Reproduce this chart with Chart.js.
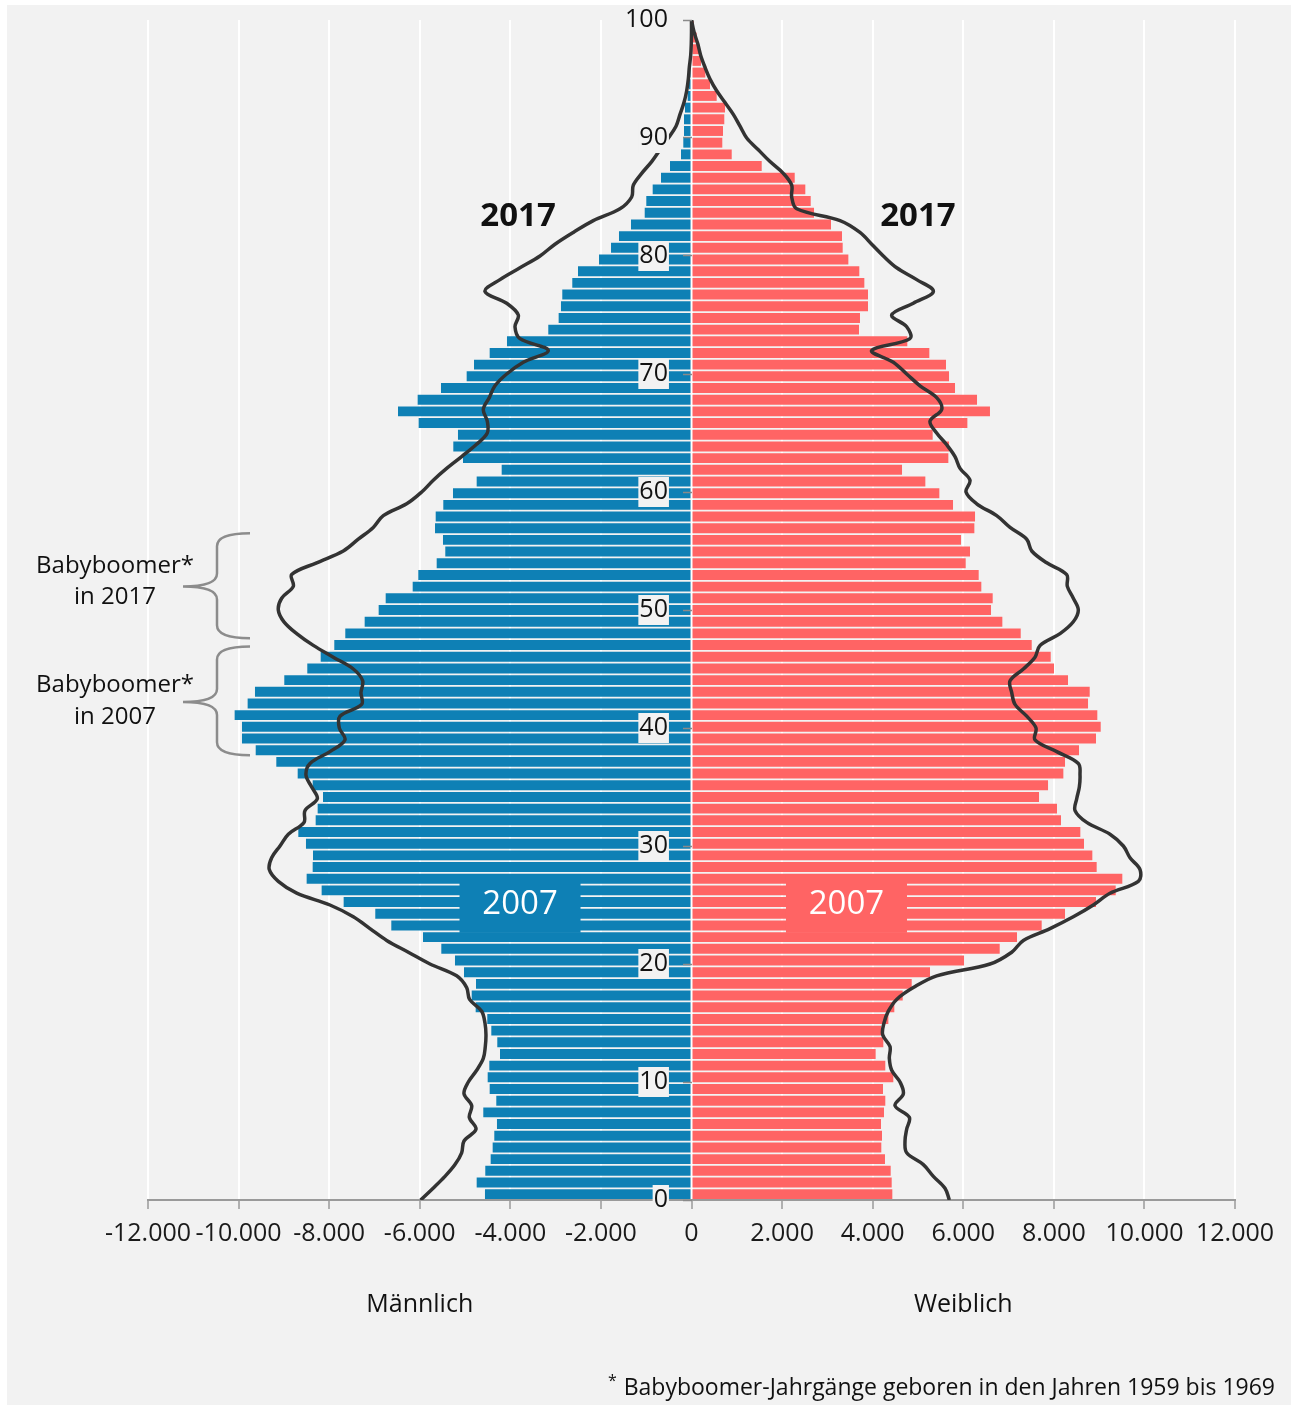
<!DOCTYPE html>
<html lang="de">
<head>
<meta charset="utf-8">
<title>Bevölkerungspyramide 2007 / 2017</title>
<script src="https://cdn.jsdelivr.net/npm/chart.js@4.4.1/dist/chart.umd.min.js"></script>
<style>
  html, body { margin: 0; padding: 0; background: #fff; }
  canvas { display: block; }
</style>
</head>
<body>
<canvas id="pyramide" width="1293" height="1407"></canvas>
<script>
// Altersjahre 0 bis 100
const alter = [
  0, 1, 2, 3, 4, 5, 6, 7, 8, 9, 10, 11, 12, 13, 14, 15, 16, 17, 18, 19,
  20, 21, 22, 23, 24, 25, 26, 27, 28, 29, 30, 31, 32, 33, 34, 35, 36, 37, 38, 39,
  40, 41, 42, 43, 44, 45, 46, 47, 48, 49, 50, 51, 52, 53, 54, 55, 56, 57, 58, 59,
  60, 61, 62, 63, 64, 65, 66, 67, 68, 69, 70, 71, 72, 73, 74, 75, 76, 77, 78, 79,
  80, 81, 82, 83, 84, 85, 86, 87, 88, 89, 90, 91, 92, 93, 94, 95, 96, 97, 98, 99, 100
];

// Balken 2007
const maenner2007 = [
  -4560, -4743, -4553, -4434, -4390, -4354, -4295, -4597, -4310, -4456,
  -4500, -4464, -4228, -4288, -4420, -4509, -4765, -4853, -4758, -5023,
  -5222, -5524, -5928, -6628, -6982, -7680, -8166, -8497, -8364, -8357,
  -8512, -8681, -8298, -8254, -8136, -8364, -8695, -9167, -9622, -9925,
  -9925, -10087, -9800, -9638, -8991, -8483, -8187, -7887, -7644, -7216,
  -6907, -6752, -6156, -6032, -5626, -5436, -5487, -5663, -5648, -5480,
  -5266, -4743, -4191, -5045, -5259, -5156, -6024, -6480, -6046, -5531,
  -4964, -4802, -4456, -4074, -3162, -2933, -2882, -2853, -2632, -2506,
  -2042, -1777, -1601, -1336, -1033, -998, -857, -673, -475, -232,
  -181, -166, -166, -144, -84, -55, -33, -10, -5, -2, -1
];
const frauen2007 = [
  4434, 4420, 4398, 4272, 4191, 4206, 4184, 4250, 4279, 4228,
  4456, 4279, 4066, 4235, 4191, 4346, 4478, 4663, 4862, 5266,
  6017, 6805, 7187, 7732, 8247, 8931, 9366, 9512, 8946, 8850,
  8666, 8585, 8158, 8070, 7673, 7872, 8210, 8247, 8556, 8931,
  9035, 8960, 8755, 8792, 8313, 8004, 7931, 7512, 7269, 6863,
  6613, 6650, 6399, 6341, 6054, 6149, 5951, 6245, 6260, 5774,
  5472, 5163, 4648, 5671, 5686, 5325, 6091, 6590, 6304, 5818,
  5686, 5619, 5251, 4765, 3698, 3720, 3897, 3897, 3816, 3705,
  3463, 3338, 3323, 3080, 2705, 2632, 2513, 2279, 1550, 888,
  680, 695, 724, 740, 556, 408, 305, 210, 172, 115, 50
];

// Linien 2017
const maenner2017 = [
  -5980, -5705, -5443, -5222, -5075, -5023, -4758, -4906, -4853, -5023,
  -4928, -4743, -4597, -4553, -4538, -4560, -4633, -4900, -4964, -5185,
  -5774, -6252, -6730, -7099, -7467, -7982, -8717, -9123, -9322, -9270,
  -9086, -8902, -8556, -8534, -8262, -8386, -8512, -8423, -7982, -7651,
  -7776, -7761, -7283, -7298, -7261, -7467, -7909, -8350, -8717, -8998,
  -9123, -9049, -8792, -8828, -8276, -7688, -7357, -7026, -6805, -6289,
  -5957, -5701, -5406, -5075, -4758, -4509, -4509, -4597, -4464, -4339,
  -4081, -3714, -3162, -3787, -3897, -3824, -4081, -4560, -4228, -3787,
  -3345, -3014, -2610, -2168, -1579, -1321, -1285, -1100, -879, -695,
  -512, -342, -254, -166, -106, -70, -48, -18, -5, 0, 0
];
const frauen2017 = [
  5693, 5597, 5340, 5119, 4751, 4714, 4751, 4810, 4493, 4677,
  4604, 4420, 4368, 4383, 4221, 4250, 4346, 4530, 4898, 5413,
  6591, 7070, 7327, 7916, 8430, 8872, 9240, 9866, 9903, 9682,
  9535, 9240, 8726, 8468, 8505, 8563, 8578, 8541, 8064, 7584,
  7606, 7401, 7143, 7070, 7033, 7327, 7584, 7695, 8137, 8430,
  8541, 8430, 8298, 8284, 7843, 7512, 7401, 7033, 6738, 6297,
  6061, 6149, 5929, 5818, 5635, 5413, 5266, 5524, 5413, 5045,
  4751, 4456, 3979, 4824, 4751, 4420, 4898, 5340, 4972, 4530,
  4235, 3979, 3720, 3279, 2323, 2212, 2212, 2027, 1733, 1475,
  1219, 1071, 923, 740, 556, 408, 298, 203, 137, 55, 0
];

// Achsenbeschriftungen
const xTicks = [-12000, -10000, -8000, -6000, -4000, -2000, 0, 2000, 4000, 6000, 8000, 10000, 12000];
const altersTicks = [0, 10, 20, 30, 40, 50, 60, 70, 80, 90, 100];

Chart.defaults.font.family = '"Open Sans", sans-serif';
Chart.defaults.color = '#1a1a1a';

function deutsch(v) {
  const s = Math.abs(v).toString().replace(/\B(?=(\d{3})+(?!\d))/g, '.');
  return (v < 0 ? '-' : '') + s;
}

function klammer(ctx, xEnde, xMitte, xSpitze, yOben, ySpitze, yUnten) {
  const r = 13;
  ctx.beginPath();
  ctx.moveTo(xEnde, yOben);
  ctx.quadraticCurveTo(xMitte, yOben, xMitte, yOben + r);
  ctx.lineTo(xMitte, ySpitze - r);
  ctx.quadraticCurveTo(xMitte, ySpitze, xSpitze, ySpitze);
  ctx.quadraticCurveTo(xMitte, ySpitze, xMitte, ySpitze + r);
  ctx.lineTo(xMitte, yUnten - r);
  ctx.quadraticCurveTo(xMitte, yUnten, xEnde, yUnten);
  ctx.stroke();
}

const hintergrund = {
  id: 'hintergrund',
  beforeDraw(chart) {
    const c = chart.ctx;
    c.save();
    c.fillStyle = '#ffffff';
    c.fillRect(0, 0, chart.width, chart.height);
    c.fillStyle = '#f2f2f2';
    c.fillRect(7, 5, chart.width - 9, chart.height - 7);
    c.restore();
  }
};

const beschriftung = {
  id: 'beschriftung',
  afterDraw(chart) {
    const ctx = chart.ctx;
    const x = chart.scales.x;
    const y = chart.scales.y;
    ctx.save();
    ctx.textAlign = 'center';
    ctx.textBaseline = 'middle';

    // 2017
    ctx.fillStyle = '#111';
    ctx.font = 'bold 33px "Open Sans"';
    ctx.fillText('2017', x.getPixelForValue(-3830), y.getPixelForValue(83.3));
    ctx.fillText('2017', x.getPixelForValue(5000), y.getPixelForValue(83.3));

    // 2007 Kästen
    const kasten = (wert, farbe) => {
      const cx = x.getPixelForValue(wert);
      const cy = y.getPixelForValue(25.1);
      ctx.fillStyle = farbe;
      ctx.fillRect(cx - 60.5, cy - 29, 121, 58);
      ctx.fillStyle = '#ffffff';
      ctx.font = '33px "Open Sans"';
      ctx.fillText('2007', cx, cy + 1);
    };
    kasten(-3786, '#0e80b5');
    kasten(3422, '#ff6464');

    // Babyboomer
    ctx.fillStyle = '#111';
    ctx.font = '24px "Open Sans"';
    ctx.fillText('Babyboomer*', 115, 566);
    ctx.fillText('in 2017', 115, 597);
    ctx.fillText('Babyboomer*', 115, 685);
    ctx.fillText('in 2007', 115, 717);

    ctx.strokeStyle = '#8c8c8c';
    ctx.lineWidth = 2.5;
    klammer(ctx, 250, 217, 183, y.getPixelForValue(56.5), y.getPixelForValue(52), y.getPixelForValue(47.6));
    klammer(ctx, 250, 217, 183, y.getPixelForValue(46.9), y.getPixelForValue(42.2), y.getPixelForValue(37.7));

    // Geschlecht
    ctx.font = '25px "Open Sans"';
    ctx.fillText('Männlich', x.getPixelForValue(-6000), 1305);
    ctx.fillText('Weiblich', x.getPixelForValue(6000), 1305);

    // Fußnote
    ctx.textAlign = 'right';
    ctx.textBaseline = 'alphabetic';
    ctx.font = '23px "Open Sans"';
    const fuss = 'Babyboomer-Jahrgänge geboren in den Jahren 1959 bis 1969';
    ctx.fillText(fuss, 1275, 1395);
    const breite = ctx.measureText(fuss).width;
    ctx.font = '16px "Open Sans"';
    ctx.fillText('*', 1275 - breite - 7, 1386);
    ctx.restore();
  }
};

new Chart(document.getElementById('pyramide'), {
  type: 'bar',
  data: {
    labels: alter,
    datasets: [
      {
        type: 'line',
        label: 'Männlich 2017',
        data: maenner2017.map((v, i) => ({ x: v, y: alter[i] })),
        xAxisID: 'x',
        yAxisID: 'y',
        borderColor: '#333333',
        borderWidth: 3.5,
        pointRadius: 0,
        tension: 0.35,
        fill: false,
        order: 0
      },
      {
        type: 'line',
        label: 'Weiblich 2017',
        data: frauen2017.map((v, i) => ({ x: v, y: alter[i] })),
        xAxisID: 'x',
        yAxisID: 'y',
        borderColor: '#333333',
        borderWidth: 3.5,
        pointRadius: 0,
        tension: 0.35,
        fill: false,
        order: 0
      },
      {
        label: 'Männlich 2007',
        data: maenner2007,
        xAxisID: 'x',
        yAxisID: 'yBalken',
        backgroundColor: '#0e80b5',
        order: 1
      },
      {
        label: 'Weiblich 2007',
        data: frauen2007,
        xAxisID: 'x',
        yAxisID: 'yBalken',
        backgroundColor: '#ff6464',
        order: 1
      }
    ]
  },
  options: {
    indexAxis: 'y',
    responsive: false,
    animation: false,
    devicePixelRatio: 1,
    layout: { padding: { left: 148, right: 58, top: 20, bottom: 147 } },
    datasets: {
      bar: { grouped: false, barPercentage: 0.85, categoryPercentage: 1 }
    },
    plugins: {
      legend: { display: false },
      tooltip: { enabled: false }
    },
    scales: {
      x: {
        type: 'linear',
        min: -12000,
        max: 12000,
        afterBuildTicks: s => { s.ticks = xTicks.map(v => ({ value: v })); },
        afterFit: s => { s.height = 60; },
        grid: { color: '#ffffff', lineWidth: 2, tickColor: '#9a9a9a', tickLength: 9, tickWidth: 1.5 },
        border: { color: '#9a9a9a', width: 2 },
        ticks: {
          autoSkip: false,
          maxRotation: 0,
          padding: 10,
          color: '#1a1a1a',
          font: { size: 25 },
          callback: v => deutsch(v)
        }
      },
      y: {
        type: 'linear',
        min: 0,
        max: 100,
        offset: false,
        position: { x: 0 },
        z: 1,
        afterBuildTicks: s => { s.ticks = altersTicks.map(v => ({ value: v })); },
        grid: { offset: false, drawOnChartArea: false, tickLength: 9, tickColor: '#8a8a8a', tickWidth: 1.5, z: 1 },
        border: { display: false },
        ticks: { display: false }
      },
      yTicks: {
        type: 'linear',
        min: 0,
        max: 100,
        offset: false,
        position: { x: -520 },
        z: 2,
        afterBuildTicks: s => { s.ticks = altersTicks.map(v => ({ value: v })); },
        grid: { offset: false, display: false },
        border: { display: false },
        ticks: {
          z: 2,
          color: '#111111',
          font: { size: 25 },
          showLabelBackdrop: true,
          backdropColor: '#f2f2f2',
          backdropPadding: { x: 1, y: 0 }
        }
      },
      yBalken: {
        type: 'category',
        reverse: true,
        offset: true,
        display: false,
        grid: { display: false }
      }
    }
  },
  plugins: [hintergrund, beschriftung]
});
</script>
</body>
</html>
